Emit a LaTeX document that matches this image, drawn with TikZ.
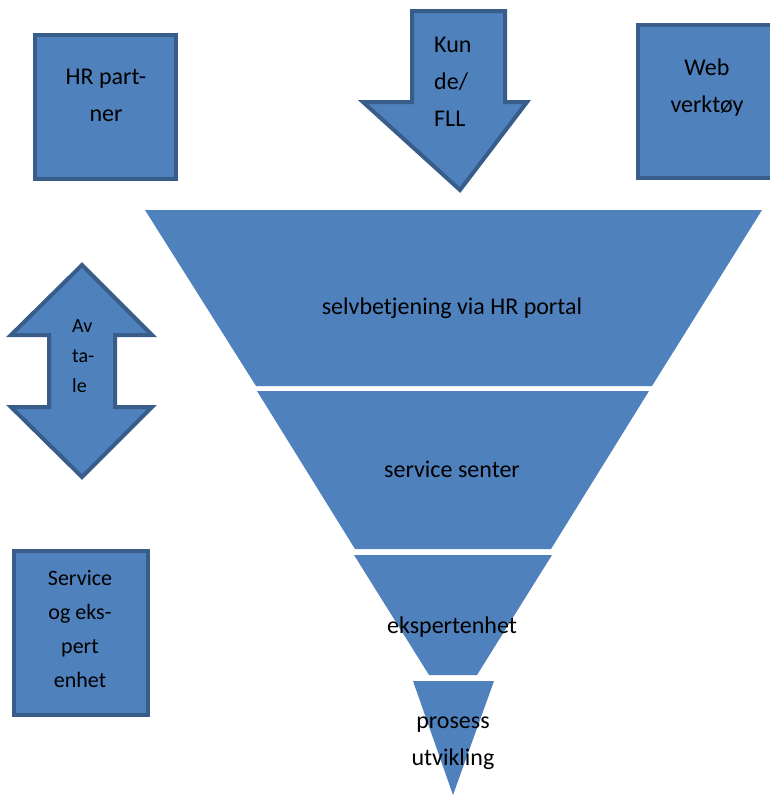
\documentclass[tikz,border=0pt]{standalone}
\usepackage{fontspec}
\setmainfont{Carlito}
\definecolor{fillblue}{HTML}{4F81BD}
\definecolor{edgeblue}{HTML}{385D8A}
\tikzset{
  shapebox/.style={fill=fillblue, draw=edgeblue, line width=4pt, line join=miter},
  funnelpart/.style={fill=fillblue},
  lbl/.style={inner sep=0pt, text=black, font=\fontsize{24}{37}\selectfont, align=center},
}
\begin{document}
\begin{tikzpicture}[x=1pt,y=-1pt]
\useasboundingbox (0,0) rectangle (770,795);
% boxes
\draw[shapebox] (35,35) rectangle (176,179);
\node[lbl] (hr) at (106,95) {HR part-\\ner};
\draw[shapebox] (638,25) rectangle (780,178);
\node[lbl] (web) at (707,88) {Web\\verktøy};
\draw[shapebox] (14,551) rectangle (148,715);
\node[lbl, font=\fontsize{22}{34}\selectfont] (seu) at (80,629) {Service\\og eks-\\pert\\enhet};
% down arrow
\draw[shapebox] (412,11) -- (505,11) -- (505,102) -- (527,102) -- (460,190) -- (363,102) -- (412,102) -- cycle;
\node[lbl, align=left, anchor=west] (kunde) at (434,82) {Kun\\de/\\FLL};
% double arrow
\draw[shapebox] (82,265) -- (152,335) -- (115,335) -- (115,407) -- (152,407) -- (82,477) -- (11,407) -- (49,407) -- (49,335) -- (11,335) -- cycle;
\node[lbl, align=left, anchor=west, font=\fontsize{20}{30}\selectfont] (avtale) at (72,356) {Av\\ta-\\le};
% funnel
\fill[funnelpart] (145,210) -- (762,210) -- (652,386) -- (256,386) -- cycle;
\node[lbl] (selv) at (452,308) {selvbetjening via HR portal};
\fill[funnelpart] (257,391) -- (649,391) -- (551,549) -- (355,549) -- cycle;
\node[lbl] (sent) at (452,469) {service senter};
\fill[funnelpart] (354,555) -- (552,555) -- (477,675) -- (429,675) -- cycle;
\node[lbl] (eksp) at (452,627) {ekspertenhet};
\fill[funnelpart] (413,681) -- (494,681) -- (453,795) -- cycle;
\node[lbl] (pros) at (453,743) {prosess\\utvikling};
\end{tikzpicture}
\end{document}
